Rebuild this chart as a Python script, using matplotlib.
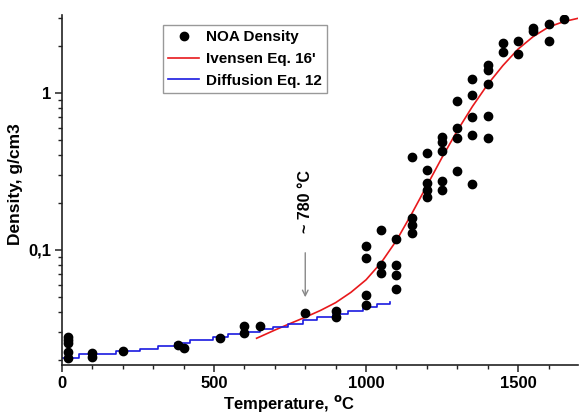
import matplotlib
matplotlib.use("Agg")
import matplotlib.pyplot as plt
from matplotlib.ticker import FixedLocator, MultipleLocator, FuncFormatter, NullFormatter

plt.rcParams['font.family'] = ['Liberation Sans', 'DejaVu Sans']
plt.rcParams['font.weight'] = 'bold'

# Measured NOA density versus temperature
noa_T = [20, 20, 20, 20, 20,
         100, 100,
         200,
         380, 400,
         520,
         600, 600,
         650,
         800,
         900, 900,
         1000, 1000, 1000, 1000,
         1050, 1050, 1050,
         1100, 1100, 1100, 1100,
         1150, 1150, 1150, 1150,
         1200, 1200, 1200, 1200, 1200,
         1250, 1250, 1250, 1250, 1250,
         1300, 1300, 1300, 1300,
         1350, 1350, 1350, 1350, 1350,
         1400, 1400, 1400, 1400, 1400,
         1450, 1450,
         1500, 1500,
         1550, 1550,
         1600, 1600,
         1650]
noa_rho = [0.0280, 0.0267, 0.0257, 0.0225, 0.0204,
           0.0220, 0.0207,
           0.0227,
           0.0250, 0.0236,
           0.0276,
           0.0328, 0.0295,
           0.0328,
           0.0395,
           0.0409, 0.0373,
           0.106, 0.0885, 0.0517, 0.0447,
           0.134, 0.080, 0.0717,
           0.117, 0.080, 0.0693, 0.0562,
           0.393, 0.159, 0.144, 0.128,
           0.413, 0.323, 0.266, 0.241, 0.216,
           0.527, 0.490, 0.429, 0.276, 0.241,
           0.893, 0.596, 0.514, 0.319,
           1.22, 0.97, 0.706, 0.537, 0.262,
           1.51, 1.40, 1.14, 0.714, 0.519,
           2.09, 1.83,
           2.15, 1.76,
           2.58, 2.49,
           2.74, 2.15,
           2.95]

# Ivensen Eq. 16' model curve
ivensen_T = [640, 700, 750, 800, 850, 900, 950, 1000, 1050, 1100, 1150, 1200,
             1250, 1300, 1350, 1400, 1450, 1500, 1550, 1600, 1650, 1700, 1750]
ivensen_rho = [0.0274, 0.0309, 0.0340, 0.0373, 0.0412, 0.0462, 0.0537, 0.0646,
               0.0832, 0.115, 0.170, 0.257, 0.389, 0.575, 0.822, 1.135, 1.496,
               1.905, 2.29, 2.63, 2.85, 3.00, 3.09]

# Diffusion Eq. 12 model (tabulated, stepwise)
diff_T = [0, 55, 177, 256, 316, 371, 420, 496, 545, 595, 650, 693, 742,
          792, 840, 890, 940, 990, 1035, 1080]
diff_rho = [0.0206, 0.0218, 0.0227, 0.0235, 0.0246, 0.0255, 0.0267, 0.0281,
            0.0291, 0.0302, 0.0313, 0.0325, 0.0338, 0.0360, 0.0375, 0.0392,
            0.0410, 0.0432, 0.0452, 0.0468]

onset_T = 800
onset_label = "~ 780 \u00b0C"

fig = plt.figure(figsize=(5.79, 4.13), dpi=100)
ax = fig.add_axes([62 / 579, 1 - 365 / 413, (578 - 62) / 579, (365 - 15) / 413])

ax.plot(noa_T, noa_rho, 'o', color='black', ms=6, label='NOA Density', zorder=3)
ax.plot(ivensen_T, ivensen_rho, '-', color='#e8191c', lw=1.2, label="Ivensen Eq. 16'", zorder=2)
ax.plot(diff_T, diff_rho, '-', color='#1a1ae0', lw=1.2, drawstyle='steps-post',
        label='Diffusion Eq. 12', zorder=2)

ax.set_yscale('log')
ax.set_xlim(0, 1697)
ax.set_ylim(0.01851, 3.14)

ax.xaxis.set_major_locator(FixedLocator([0, 500, 1000, 1500]))
ax.xaxis.set_minor_locator(MultipleLocator(100))
ax.yaxis.set_major_locator(FixedLocator([0.1, 1]))
ax.yaxis.set_minor_locator(FixedLocator([0.02, 0.03, 0.04, 0.05, 0.06, 0.07, 0.08, 0.09,
                                         0.2, 0.3, 0.4, 0.5, 0.6, 0.7, 0.8, 0.9, 2, 3]))
ax.yaxis.set_major_formatter(FuncFormatter(lambda v, p: '1' if v >= 1 else '0,1'))
ax.yaxis.set_minor_formatter(NullFormatter())

for s in ['top', 'right']:
    ax.spines[s].set_visible(False)
for s in ['left', 'bottom']:
    ax.spines[s].set_linewidth(1.2)
    ax.spines[s].set_color('#222222')

ax.tick_params(which='major', direction='out', length=5, width=1.1, labelsize=12, pad=3,
               color='#222222')
ax.tick_params(which='minor', direction='out', length=3, width=1.0, color='#222222')
for lab in ax.get_xticklabels() + ax.get_yticklabels():
    lab.set_fontweight('bold')

fig.text(289 / 579, 1 - 409 / 413, 'Temperature, $^{\\mathbf{o}}$C', ha='center', va='baseline',
         fontsize=12, fontweight='bold')
fig.text(15.5 / 579, 1 - 184 / 413, 'Density, g/cm3', ha='center', va='center',
         rotation=90, fontsize=12.5, fontweight='bold')

ax.annotate('', xy=(onset_T, 0.048), xytext=(onset_T, 0.1),
            arrowprops=dict(arrowstyle='->', color='#888888', lw=1.0))
ax.text(onset_T, 0.205, onset_label, rotation=90, ha='center', va='center',
        fontsize=11.5, fontweight='bold')

leg = ax.legend(loc='upper left', bbox_to_anchor=(163 / 579, 1 - 25 / 413),
                bbox_transform=fig.transFigure, borderaxespad=0, fancybox=False,
                edgecolor='#999999', framealpha=1, prop={'size': 11, 'weight': 'bold'},
                handlelength=2.0, handletextpad=0.45, borderpad=0.35, labelspacing=0.5)
leg.get_frame().set_linewidth(1.0)

fig.savefig('out.png', dpi=100)
